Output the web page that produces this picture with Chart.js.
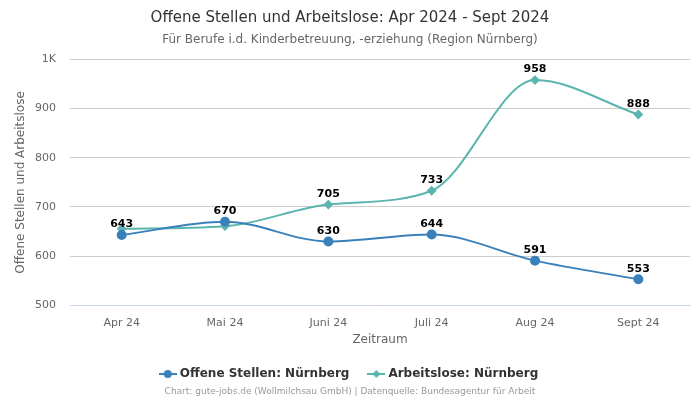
<!DOCTYPE html>
<html>
<head>
<meta charset="utf-8">
<script src="https://cdn.jsdelivr.net/npm/chart.js@4/dist/chart.umd.min.js"></script>
<style>
  html, body { margin: 0; padding: 0; background: #fff; }
  #wrap { width: 700px; height: 400px; }
</style>
</head>
<body>
<div id="wrap"><canvas id="chart"></canvas></div>
<script>
const categories = ['Apr 24', 'Mai 24', 'Juni 24', 'Juli 24', 'Aug 24', 'Sept 24'];
const offeneStellen = [643, 670, 630, 644, 591, 553];
const arbeitslose = [656, 661, 705, 733, 958, 888];
const yTicks = [500, 600, 700, 800, 900, 1000];

const FONT = "'DejaVu Sans', sans-serif";
const BLUE = '#3a80ba';
const TEAL = '#5bb5ae';

// Legend symbol: short line with marker on it
function legendSymbol(color, diamond) {
    const c = document.createElement('canvas');
    c.width = 18; c.height = 12;
    const g = c.getContext('2d');
    g.strokeStyle = color; g.lineWidth = 2;
    g.beginPath(); g.moveTo(0, 6); g.lineTo(18, 6); g.stroke();
    g.fillStyle = color;
    g.beginPath();
    if (diamond) {
        g.moveTo(9, 2); g.lineTo(13, 6); g.lineTo(9, 10); g.lineTo(5, 6);
    } else {
        g.arc(9, 6, 4, 0, Math.PI * 2);
    }
    g.fill();
    return c;
}

// Value labels above points, skipped when they collide with one already drawn
const valueLabels = {
    id: 'valueLabels',
    afterDatasetsDraw(chart) {
        const ctx = chart.ctx;
        const placed = [];
        ctx.save();
        ctx.font = 'bold 11px ' + FONT;
        ctx.fillStyle = '#000';
        ctx.textAlign = 'center';
        ctx.textBaseline = 'bottom';
        chart.data.datasets.forEach((ds, i) => {
            chart.getDatasetMeta(i).data.forEach((pt, j) => {
                const text = String(ds.data[j]);
                const w = ctx.measureText(text).width;
                const box = { x1: pt.x - w / 2 - 2, x2: pt.x + w / 2 + 2, y1: pt.y - 19, y2: pt.y - 5 };
                const hit = placed.some(b => b.x1 < box.x2 && box.x1 < b.x2 && b.y1 < box.y2 && box.y1 < b.y2);
                if (hit) return;
                placed.push(box);
                ctx.fillText(text, pt.x, pt.y - 5);
            });
        });
        ctx.restore();
    }
};

const credits = {
    id: 'credits',
    afterDraw(chart) {
        const ctx = chart.ctx;
        ctx.save();
        ctx.font = '9px ' + FONT;
        ctx.fillStyle = '#999';
        ctx.textAlign = 'center';
        ctx.textBaseline = 'middle';
        ctx.fillText('Chart: gute-jobs.de (Wollmilchsau GmbH) | Datenquelle: Bundesagentur für Arbeit', chart.width / 2, 392);
        ctx.restore();
    }
};

new Chart(document.getElementById('chart'), {
    type: 'line',
    data: {
        labels: categories,
        datasets: [
            {
                label: 'Offene Stellen: Nürnberg',
                data: offeneStellen,
                borderColor: BLUE,
                backgroundColor: BLUE,
                borderWidth: 2,
                pointStyle: 'circle',
                pointRadius: 4,
                pointHoverRadius: 4,
                cubicInterpolationMode: 'monotone'
            },
            {
                label: 'Arbeitslose: Nürnberg',
                data: arbeitslose,
                borderColor: TEAL,
                backgroundColor: TEAL,
                borderWidth: 2,
                pointStyle: 'rectRot',
                pointRadius: 3.5,
                pointHoverRadius: 3.5,
                cubicInterpolationMode: 'monotone'
            }
        ]
    },
    options: {
        responsive: true,
        maintainAspectRatio: false,
        animation: false,
        layout: { padding: { left: 10, right: 10, bottom: 10 } },
        plugins: {
            title: {
                display: true,
                text: 'Offene Stellen und Arbeitslose: Apr 2024 - Sept 2024',
                color: '#333',
                font: { family: FONT, size: 15, weight: 'normal' },
                padding: { top: 9, bottom: 5 }
            },
            subtitle: {
                display: true,
                text: 'Für Berufe i.d. Kinderbetreuung, -erziehung (Region Nürnberg)',
                color: '#666',
                font: { family: FONT, size: 12 },
                padding: { top: 1, bottom: 12 }
            },
            legend: {
                position: 'bottom',
                labels: {
                    color: '#333',
                    font: { family: FONT, size: 12, weight: 'bold' },
                    usePointStyle: true,
                    padding: 21,
                    generateLabels(chart) {
                        return chart.data.datasets.map((ds, i) => ({
                            text: ds.label,
                            fontColor: '#333',
                            pointStyle: legendSymbol(ds.borderColor, i === 1),
                            datasetIndex: i,
                            hidden: !chart.isDatasetVisible(i)
                        }));
                    }
                }
            },
            tooltip: { enabled: false }
        },
        scales: {
            x: {
                offset: true,
                grid: { display: false },
                border: { display: true, color: '#ccd6eb' },
                ticks: { color: '#666', font: { family: FONT, size: 11 }, padding: 3 },
                title: {
                    display: true,
                    text: 'Zeitraum',
                    color: '#666',
                    font: { family: FONT, size: 12 },
                    padding: { top: 0, bottom: 0 }
                }
            },
            y: {
                min: yTicks[0],
                max: yTicks[yTicks.length - 1],
                afterBuildTicks(axis) {
                    axis.ticks = yTicks.map(v => ({ value: v }));
                },
                afterFit(axis) {
                    axis.width = 60;
                },
                grid: { color: '#cccccc', drawTicks: false },
                border: { display: false },
                ticks: {
                    color: '#666',
                    font: { family: FONT, size: 11 },
                    padding: 14,
                    callback: v => (v >= 1000 ? (v / 1000) + 'K' : v)
                },
                title: {
                    display: true,
                    text: 'Offene Stellen und Arbeitslose',
                    color: '#666',
                    font: { family: FONT, size: 12 },
                    padding: { top: 4, bottom: 0 }
                }
            }
        }
    },
    plugins: [valueLabels, credits]
});
</script>
</body>
</html>
